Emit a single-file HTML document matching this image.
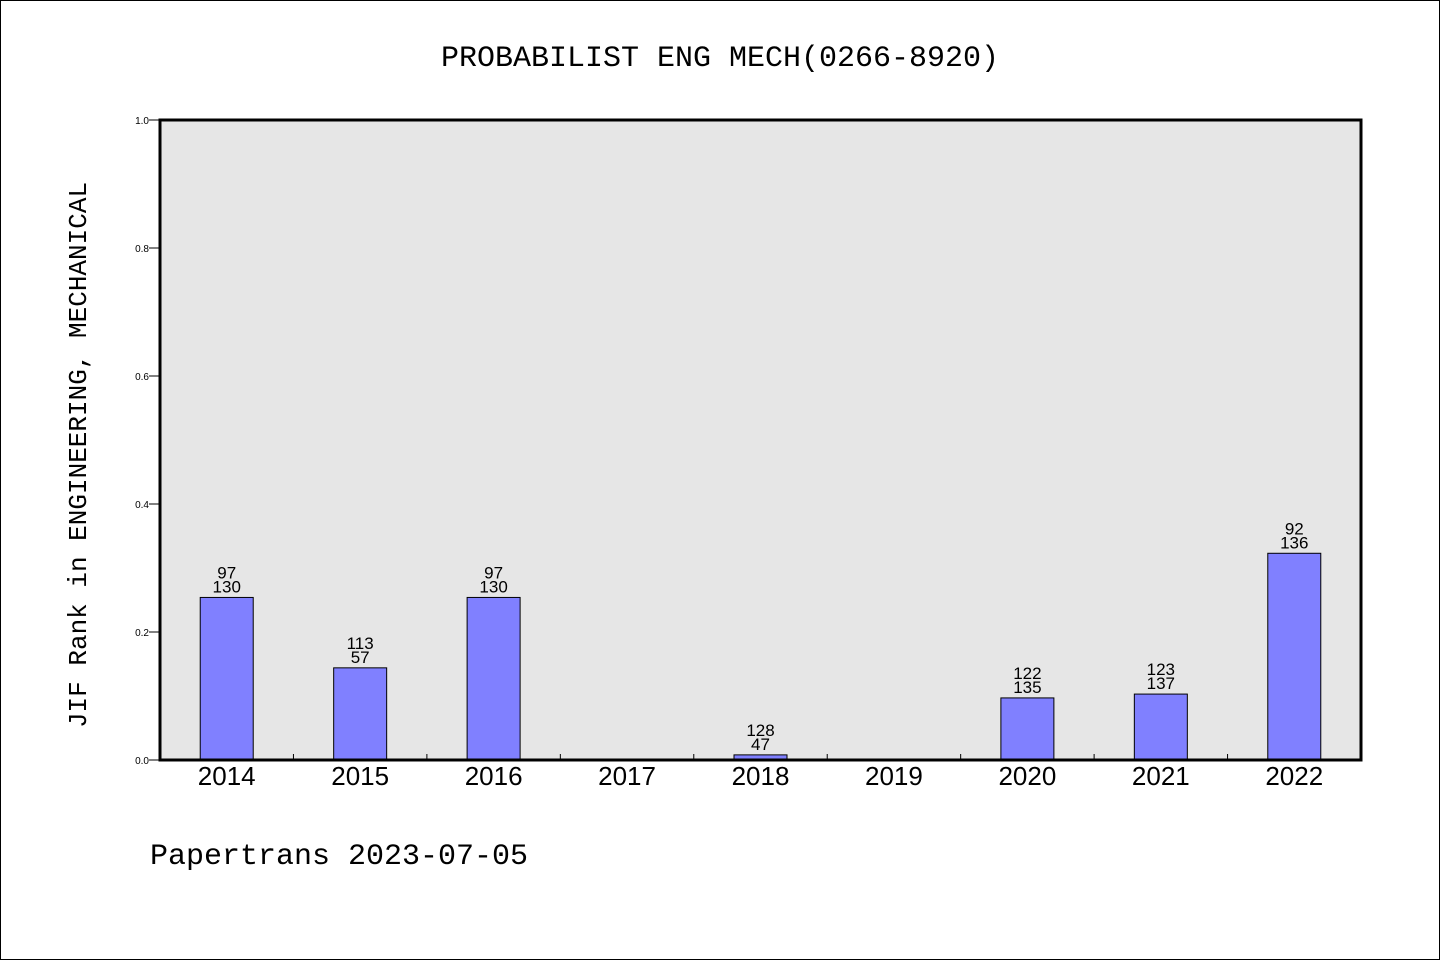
<!DOCTYPE html>
<html><head><meta charset="utf-8"><style>
body{margin:0;background:#fff}
svg text{font-family:"Liberation Sans","WenQuanYi Zen Hei",sans-serif;fill:#000}
</style></head><body>
<svg width="1440" height="960" xmlns="http://www.w3.org/2000/svg">
<rect x="0.5" y="0.5" width="1439" height="959" fill="#fff" stroke="#000"/>
<text x="720" y="66" text-anchor="middle" font-size="30" style="font-family:'WenQuanYi Zen Hei','Liberation Mono',monospace">PROBABILIST ENG MECH(0266-8920)</text>
<rect x="160" y="120" width="1201" height="640" fill="#e6e6e6"/>
<g id="bars"></g>
<rect x="160" y="120" width="1201" height="640" fill="none" stroke="#000" stroke-width="3"/>
<g id="axes"></g>
<text transform="translate(86,455) rotate(-90)" text-anchor="middle" font-size="26" style="font-family:'WenQuanYi Zen Hei','Liberation Mono',monospace">JIF Rank in ENGINEERING, MECHANICAL</text>
<text x="150" y="864" font-size="30" style="font-family:'WenQuanYi Zen Hei','Liberation Mono',monospace">Papertrans 2023-07-05</text>
</svg>
<script>
const categories=["2014","2015","2016","2017","2018","2019","2020","2021","2022"];
const values=[0.254,0.144,0.254,0,0.008,0,0.097,0.103,0.323];
const topLabels=["97","113","97","","128","","122","123","92"];
const bottomLabels=["130","57","130","","47","","135","137","136"];
const yTicks=[0,0.2,0.4,0.6,0.8,1.0];
const NS="http://www.w3.org/2000/svg";
const X0=160,W=1201,Y0=760,H=640;
const step=W/categories.length;
const xc=i=>X0+step*(i+0.5);
const y=v=>Y0-v*H;
const bars=document.getElementById('bars'),axes=document.getElementById('axes');
function mk(tag,attrs,parent){const e=document.createElementNS(NS,tag);for(const k in attrs)e.setAttribute(k,attrs[k]);parent.appendChild(e);return e;}
categories.forEach((c,i)=>{
  if(values[i]>0){
    const r=mk('rect',{x:xc(i)-26.5,y:y(values[i]),width:53,height:Y0-y(values[i]),fill:'#8080ff',stroke:'#000','stroke-width':1},bars);
    
    
  }
  if(topLabels[i]){
    const t1=mk('text',{x:xc(i),y:y(values[i])-19,'text-anchor':'middle','font-size':17},bars);t1.textContent=topLabels[i];
    
    
    const t2=mk('text',{x:xc(i),y:y(values[i])-5,'text-anchor':'middle','font-size':17},bars);t2.textContent=bottomLabels[i];
    
    
  }
  const xl=mk('text',{x:xc(i),y:785,'text-anchor':'middle','font-size':26},axes);xl.textContent=c;
  
  
  if(i>0){
    const tk=mk('line',{x1:X0+step*i,x2:X0+step*i,y1:Y0,y2:Y0-6,stroke:'#000','stroke-width':1},axes);
    
    
  }
});
yTicks.forEach(v=>{
  const tk=mk('line',{x1:X0-11,x2:X0,y1:y(v),y2:y(v),stroke:'#000','stroke-width':1},axes);
  
  
  const t=mk('text',{x:X0-8-3,y:y(v)+4,'text-anchor':'end','font-size':10},axes);t.textContent=v.toFixed(1);
  
  
});
</script>
</body></html>
